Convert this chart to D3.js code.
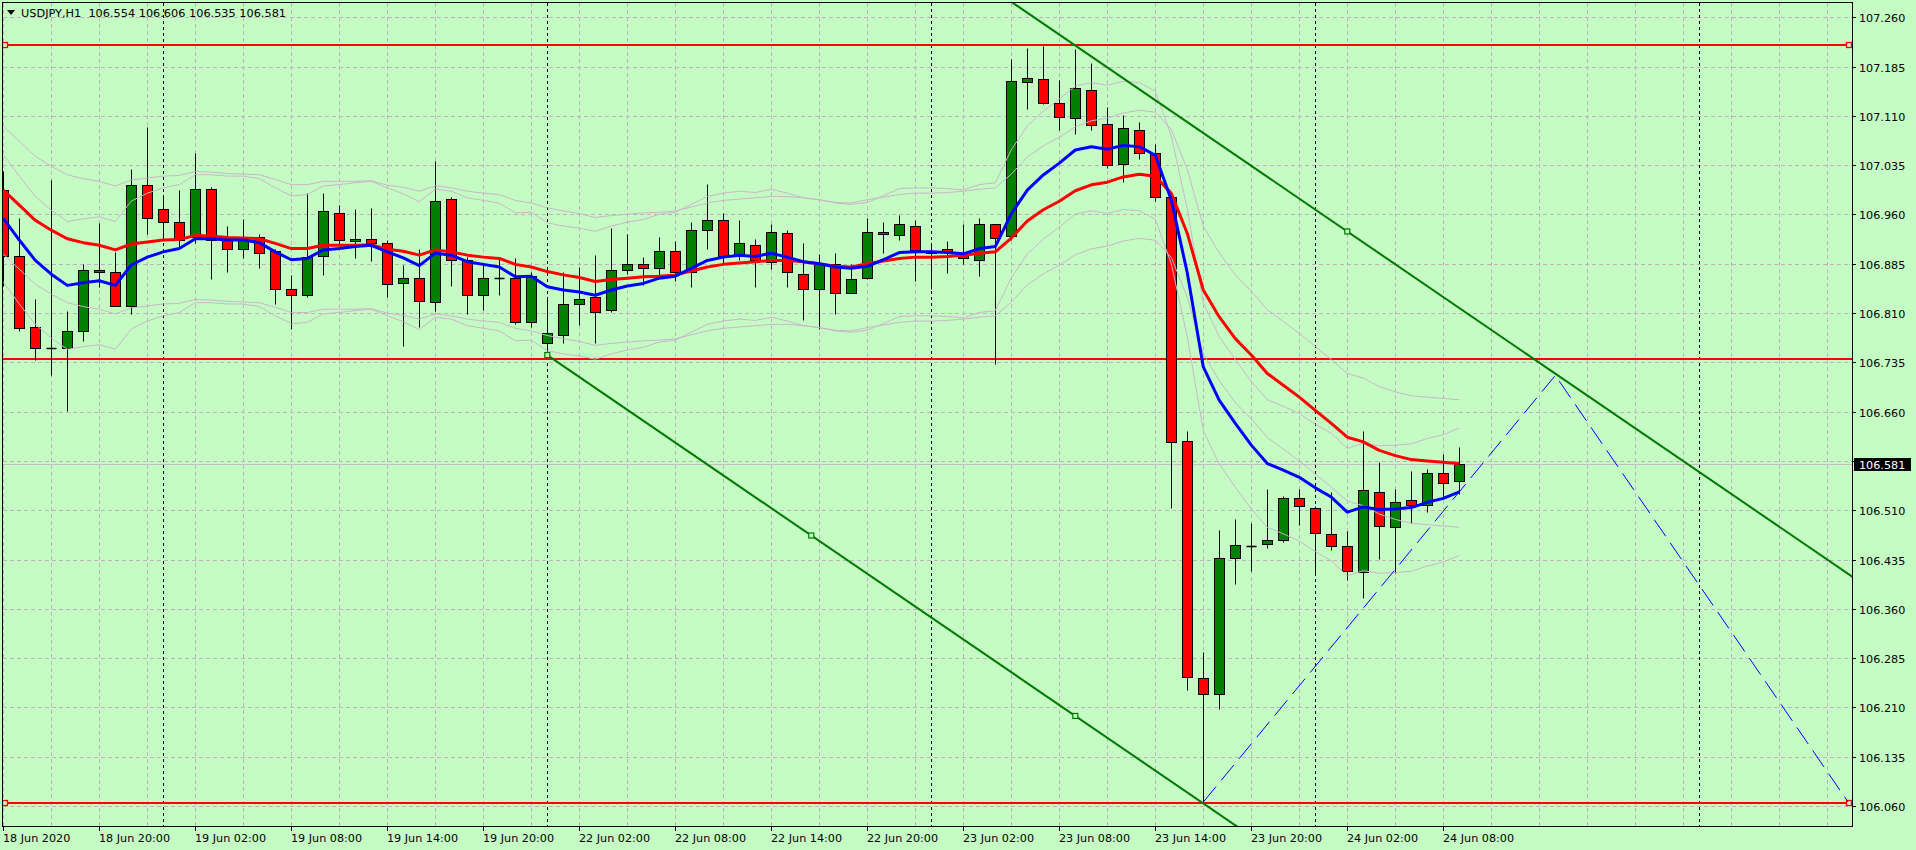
<!DOCTYPE html>
<html><head><meta charset="utf-8">
<script src="https://cdn.jsdelivr.net/npm/d3@7"></script>
<style>html,body{margin:0;padding:0;background:#C4FCC4;overflow:hidden}</style>
</head><body><svg id="c" width="1916" height="850"></svg>
<script>
// ---------------- data ----------------
const chartSymbol = "USDJPY,H1";
const chartOHLC = ["106.554","106.606","106.535","106.581"];
// hourly bars, bar 0 = 18 Jun 14:00 ... bar 91 = 24 Jun 09:00
const open  = [106.997,106.897,106.789,106.757,106.757,106.783,106.876,106.873,106.820,107.004,
               106.968,106.949,106.925,106.998,106.921,106.907,106.925,106.905,106.847,106.837,
               106.896,106.962,106.920,106.923,106.917,106.855,106.863,106.827,106.983,106.891,
               106.837,106.864,106.864,106.797,106.765,106.776,106.824,106.834,106.814,106.875,
               106.884,106.879,106.905,106.872,106.937,106.952,106.896,106.914,106.888,106.931,
               106.870,106.847,106.885,106.841,106.863,106.933,106.928,106.943,106.901,106.907,
               106.901,106.891,106.945,106.927,107.161,107.166,107.129,107.106,107.150,107.097,
               107.036,107.089,107.054,106.987,106.616,106.255,106.231,106.438,106.456,106.459,
               106.464,106.529,106.514,106.474,106.456,106.416,106.538,106.485,106.526,106.518,
               106.567,106.554];
const high  = [107.026,106.954,106.831,107.012,106.813,106.885,106.947,106.903,107.029,107.093,
               106.989,106.997,107.053,107.001,106.942,106.953,106.930,106.908,106.868,106.992,
               106.992,106.974,106.968,106.970,106.921,106.883,106.907,107.041,106.987,106.895,
               106.885,106.895,106.893,106.872,106.835,106.872,106.880,106.898,106.939,106.930,
               106.895,106.926,106.920,106.948,107.006,106.962,106.952,106.922,106.945,106.936,
               106.916,106.899,106.902,106.885,106.954,106.948,106.959,106.951,106.917,106.920,
               106.945,106.954,106.946,107.196,107.213,107.216,107.164,107.211,107.190,107.123,
               107.111,107.100,107.067,106.994,106.630,106.295,106.480,106.496,106.491,106.542,
               106.531,106.542,106.516,106.537,106.479,106.631,106.584,106.543,106.570,106.572,
               106.596,106.606];
const low   = [106.851,106.782,106.739,106.715,106.661,106.768,106.850,106.820,106.809,106.930,
               106.921,106.908,106.916,106.861,106.873,106.894,106.879,106.824,106.786,106.834,
               106.868,106.914,106.894,106.889,106.835,106.760,106.788,106.813,106.851,106.809,
               106.814,106.838,106.794,106.788,106.748,106.765,106.792,106.764,106.811,106.870,
               106.853,106.863,106.859,106.850,106.907,106.885,106.890,106.850,106.877,106.850,
               106.799,106.786,106.809,106.840,106.862,106.901,106.921,106.859,106.847,106.871,
               106.884,106.867,106.733,106.921,107.120,107.128,107.089,107.082,107.089,107.030,
               107.009,107.045,106.981,106.513,106.237,106.066,106.208,106.397,106.417,106.453,
               106.462,106.487,106.413,106.449,106.404,106.377,106.436,106.415,106.491,106.508,
               106.529,106.535];
const close = [106.896,106.787,106.757,106.757,106.783,106.875,106.872,106.821,107.004,106.955,
               106.949,106.921,106.998,106.921,106.907,106.921,106.902,106.847,106.837,106.895,
               106.965,106.921,106.923,106.917,106.854,106.864,106.829,106.981,106.891,106.838,
               106.863,106.863,106.796,106.866,106.780,106.824,106.832,106.812,106.875,106.884,
               106.879,106.904,106.872,106.936,106.951,106.896,106.916,106.891,106.933,106.872,
               106.847,106.885,106.841,106.861,106.933,106.930,106.945,106.906,106.903,106.904,
               106.893,106.945,106.924,107.163,107.167,107.129,107.108,107.152,107.096,107.035,
               107.091,107.054,106.987,106.614,106.256,106.231,106.438,106.457,106.456,106.464,
               106.529,106.517,106.476,106.456,106.418,106.540,106.486,106.523,106.518,106.567,
               106.552,106.581];
// fast moving average (blue)
const maFast = [106.954,106.921,106.890,106.869,106.852,106.856,106.859,106.852,106.883,106.895,
                106.903,106.908,106.923,106.923,106.921,106.921,106.917,106.903,106.891,106.893,
                106.906,106.908,106.911,106.913,106.903,106.894,106.882,106.901,106.898,106.888,
                106.884,106.880,106.865,106.866,106.850,106.845,106.842,106.837,106.845,106.851,
                106.855,106.863,106.866,106.878,106.890,106.895,106.898,106.896,106.901,106.895,
                106.888,106.885,106.880,106.878,106.881,106.891,106.902,106.903,106.903,106.902,
                106.900,106.908,106.911,106.961,106.997,107.020,107.038,107.058,107.063,107.059,
                107.065,107.063,107.050,106.982,106.871,106.728,106.677,106.642,106.609,106.581,
                106.571,106.560,106.544,106.530,106.507,106.515,106.511,106.512,106.514,106.522,
                106.528,106.538];
// slow moving average (red)
const maSlow = [106.997,106.974,106.951,106.936,106.923,106.917,106.913,106.906,106.915,106.918,
                106.921,106.922,106.928,106.927,106.925,106.924,106.923,106.916,106.908,106.908,
                106.913,106.913,106.913,106.914,106.907,106.904,106.898,106.906,106.903,106.898,
                106.895,106.893,106.884,106.880,106.873,106.868,106.864,106.858,106.861,106.863,
                106.865,106.866,106.868,106.874,106.880,106.884,106.886,106.888,106.890,106.890,
                106.888,106.885,106.881,106.880,106.885,106.889,106.893,106.895,106.895,106.896,
                106.898,106.901,106.903,106.924,106.950,106.967,106.980,106.996,107.005,107.009,
                107.017,107.021,107.018,106.992,106.931,106.845,106.804,106.771,106.746,106.718,
                106.700,106.682,106.662,106.642,106.621,106.614,106.601,106.593,106.587,106.585,
                106.583,106.581];
const envelopePct = 0.091;   // envelope deviation around each average, in %
const priceTicks = ["107.260","107.185","107.110","107.035","106.960","106.885","106.810","106.735",
                    "106.660","106.585","106.510","106.435","106.360","106.285","106.210","106.135","106.060"];
const timeLabels = ["18 Jun 2020","18 Jun 20:00","19 Jun 02:00","19 Jun 08:00","19 Jun 14:00","19 Jun 20:00",
                    "22 Jun 02:00","22 Jun 08:00","22 Jun 14:00","22 Jun 20:00","23 Jun 02:00","23 Jun 08:00",
                    "23 Jun 14:00","23 Jun 20:00","24 Jun 02:00","24 Jun 08:00"];
const timeLabelBars = [0,6,12,18,24,30,36,42,48,54,60,66,72,78,84,90];
const separatorBars = [10,34,58,82,106];       // midnight period separators
const hLevels = [107.218, 106.740, 106.065];   // red horizontal lines
const hLevelMarked = [true, false, true];
const channelPoints = [[34,106.746],[67,106.197],[84,106.934]]; // equidistant channel
const zigzagPoints = [[75,106.066],[97,106.715],[115.3,106.066]];
const lastPrice = 106.581;

// ---------------- drawing ----------------
const BG = "#C4FCC4";
const svg = d3.select("#c");
const P = {left:3, right:1852, top:3, bottom:826};
const x = d3.scaleLinear().domain([0,115]).range([3.3,1843.3]);
const y = d3.scaleLinear().domain([106.060,107.260]).range([806,17.2]);
const px = v => Math.floor(x(v)) + 0.5;
const py = v => Math.round(y(v)) + 0.5;

svg.append("rect").attr("width",1916).attr("height",850).attr("fill",BG);
svg.append("defs").append("clipPath").attr("id","clip")
  .append("rect").attr("x",P.left).attr("y",P.top).attr("width",P.right-P.left).attr("height",P.bottom-P.top);
const g = svg.append("g").attr("clip-path","url(#clip)");

// grid
const gridColor = "#BEB2BE";
const vGrid = d3.range(0, 118, 3);
g.selectAll(".vg").data(vGrid).join("line")
  .attr("x1",d=>px(d)).attr("x2",d=>px(d)).attr("y1",P.top).attr("y2",P.bottom)
  .attr("stroke",gridColor).attr("stroke-dasharray","4,3");
g.selectAll(".hg").data(priceTicks).join("line")
  .attr("x1",P.left).attr("x2",P.right).attr("y1",d=>py(+d)).attr("y2",d=>py(+d))
  .attr("stroke",gridColor).attr("stroke-dasharray","4,3");
// period separators
g.selectAll(".sep").data(separatorBars).join("line")
  .attr("x1",d=>px(d)).attr("x2",d=>px(d)).attr("y1",P.top).attr("y2",P.bottom)
  .attr("stroke","#000").attr("stroke-dasharray","3,3");
// bid line
g.append("line").attr("x1",P.left).attr("x2",P.right).attr("y1",py(lastPrice)).attr("y2",py(lastPrice))
  .attr("stroke","#C0C0C0");

// red horizontal levels
hLevels.forEach((lv,i)=>{
  const yy = Math.round(y(lv));
  g.append("line").attr("x1",P.left).attr("x2",P.right).attr("y1",yy).attr("y2",yy)
    .attr("stroke","#FF0000").attr("stroke-width",2);
  if (hLevelMarked[i]) {
    [5, 1849].forEach(cx=>{
      g.append("rect").attr("x",cx-2.5).attr("y",yy-2.5).attr("width",5).attr("height",5)
        .attr("fill",BG).attr("stroke","#FF0000").attr("stroke-width",1.3);
    });
  }
});

// candles
const idx = d3.range(open.length);
const cg = g.append("g");
cg.selectAll(".wick").data(idx).join("line")
  .attr("x1",i=>px(i)).attr("x2",i=>px(i)).attr("y1",i=>py(high[i])).attr("y2",i=>py(low[i]))
  .attr("stroke","#000");
idx.forEach(i=>{
  const top = py(Math.max(open[i],close[i])), bot = py(Math.min(open[i],close[i]));
  const xl = Math.floor(x(i)) - 4.5;
  if (bot - top < 0.5) {
    cg.append("line").attr("x1",xl).attr("x2",xl+10).attr("y1",top).attr("y2",top)
      .attr("stroke","#000").attr("stroke-width",1.5);
  } else {
    cg.append("rect").attr("x",xl).attr("y",top).attr("width",10).attr("height",bot-top)
      .attr("fill", close[i] >= open[i] ? "#008000" : "#FF0000").attr("stroke","#000");
  }
});

// envelopes
const envColor = "#C9B7C9";
const line = d3.line().x((d,i)=>x(i)).y(d=>y(d));
[maSlow, maFast].forEach(ma=>{
  [1,-1].forEach(s=>{
    g.append("path").attr("d", line(ma.map(v=>v*(1+s*envelopePct/100))))
      .attr("fill","none").attr("stroke",envColor).attr("stroke-width",1);
  });
});
// moving averages
g.append("path").attr("d",line(maSlow)).attr("fill","none").attr("stroke","#FF0000")
  .attr("stroke-width",3).attr("stroke-linejoin","round");
g.append("path").attr("d",line(maFast)).attr("fill","none").attr("stroke","#0000FF")
  .attr("stroke-width",3).attr("stroke-linejoin","round");

// equidistant channel
const [c1,c2,c3] = channelPoints;
const slope = (c2[1]-c1[1])/(c2[0]-c1[0]);
const endBar = x.invert(1900);
const chanAt = (base, b) => base[1] + (b - base[0])*slope;
g.append("line").attr("x1",x(c1[0])).attr("y1",y(c1[1]))
  .attr("x2",x(endBar)).attr("y2",y(chanAt(c1,endBar)))
  .attr("stroke","#007800").attr("stroke-width",2);
g.append("line").attr("x1",x(c1[0])).attr("y1",y(chanAt(c3,c1[0])))
  .attr("x2",x(endBar)).attr("y2",y(chanAt(c3,endBar)))
  .attr("stroke","#007800").attr("stroke-width",2);
const mid = [(c1[0]+c2[0])/2, (c1[1]+c2[1])/2];
[c1, mid, c2, c3].forEach(p=>{
  g.append("rect").attr("x",x(p[0])-2.5).attr("y",y(p[1])-2.5).attr("width",5).attr("height",5)
    .attr("fill",BG).attr("stroke","#007800").attr("stroke-width",1.2);
});

// dashed zigzag projection
g.append("path").attr("d", d3.line().x(d=>x(d[0])).y(d=>y(d[1]))(zigzagPoints))
  .attr("fill","none").attr("stroke","#0000FF").attr("stroke-width",1).attr("stroke-dasharray","20,8");

// frame
svg.append("rect").attr("x",2.5).attr("y",2.5).attr("width",1850).attr("height",824)
  .attr("fill","none").attr("stroke","#000");

// price axis
const font = "'DejaVu Sans', Verdana, sans-serif";
const fs = "11.2px";
priceTicks.forEach(t=>{
  const yy = py(+t);
  svg.append("line").attr("x1",1852).attr("x2",1856).attr("y1",yy).attr("y2",yy).attr("stroke","#000");
  svg.append("text").attr("x",1859).attr("y",yy+4.2).text(t)
    .attr("font-family",font).attr("font-size",fs).attr("fill","#000");
});
// last price box
svg.append("rect").attr("x",1854).attr("y",Math.round(y(lastPrice))-6).attr("width",57).attr("height",13).attr("fill","#000");
svg.append("text").attr("x",1859).attr("y",Math.round(y(lastPrice))+4.7).text(lastPrice.toFixed(3))
  .attr("font-family",font).attr("font-size",fs).attr("fill","#fff");

// time axis
timeLabels.forEach((t,i)=>{
  const xx = px(timeLabelBars[i]);
  svg.append("line").attr("x1",xx).attr("x2",xx).attr("y1",826).attr("y2",831).attr("stroke","#000");
  svg.append("text").attr("x",xx-0.5).attr("y",842).text(t)
    .attr("font-family",font).attr("font-size",fs).attr("fill","#000");
});

// title
svg.append("path").attr("d","M7,10 L15,10 L11,15 Z").attr("fill","#000");
svg.append("text").attr("x",21).attr("y",17).text(chartSymbol + "\u00A0\u00A0" + chartOHLC.join(" "))
  .attr("font-family",font).attr("font-size","11.3px").attr("fill","#000");
</script></body></html>
